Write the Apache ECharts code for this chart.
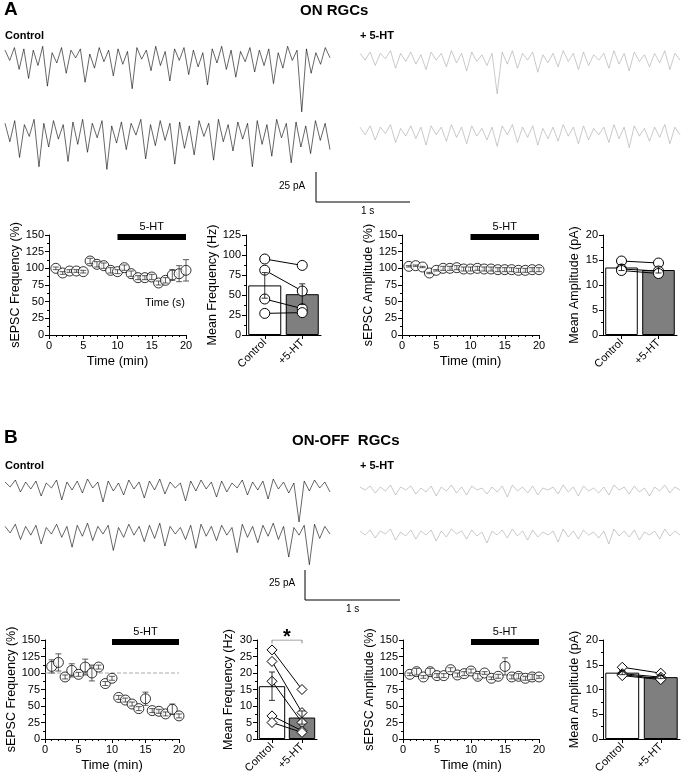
<!DOCTYPE html>
<html style="height:100%">
<head>
<meta charset="utf-8">
<script src="https://cdn.jsdelivr.net/npm/echarts@6/dist/echarts.min.js"></script>
</head>
<body style="height:100%;margin:0;background:#fff">
<div id="container" style="width:685px;height:784px"></div>
<script>
// traces (pA, baseline 0)
var trA1 = [0,-8,2,-15,1,-22,0,-12,3,-28,-2,-10,2,-18,0,-6,1,-25,-3,-14,2,-9,0,-20,1,-11,-1,-30,2,-7,0,-16,3,-12,-1,-24,1,-8,2,-19,0,-13,-2,-27,1,-10,3,-15,0,-21,-1,-9,2,-17,0,-12,1,-26,-2,-14,3,-8,0,-48,1,-18,-2,-11,2,-6];
var trA2 = [0,-14,2,-26,-1,-10,3,-33,0,-18,2,-12,-1,-29,1,-16,3,-22,0,-11,2,-35,-2,-15,1,-20,0,-9,3,-27,-1,-17,2,-13,0,-31,1,-19,-2,-24,2,-10,0,-28,3,-14,-1,-21,1,-12,0,-33,2,-16,-1,-25,3,-11,0,-30,1,-18,-2,-23,2,-13,0,-20];
var trA3 = [0,-5,1,-9,0,-4,2,-11,0,-6,1,-8,-1,-12,1,-5,0,-10,2,-7,0,-13,1,-6,-1,-9,0,-30,1,-8,2,-11,0,-5,1,-14,-1,-7,0,-10,2,-6,0,-12,1,-9,-1,-5,0,-11,2,-8,0,-13,1,-6,-1,-10,0,-7,2,-12,0,-5];
var trA4 = [0,-6,1,-10,0,-5,2,-12,-1,-7,1,-9,0,-14,1,-6,0,-11,2,-8,0,-13,1,-7,-1,-10,0,-15,1,-6,2,-12,0,-8,1,-14,-1,-9,0,-11,2,-7,0,-13,1,-10,-1,-6,0,-12,2,-9,0,-16,1,-7,-1,-11,0,-8,2,-13,0,-6];
var trB1 = [0,-5,2,-10,0,-7,1,-14,-1,-6,2,-18,0,-8,1,-11,3,-6,0,-20,1,-9,-1,-13,2,-7,0,-16,1,-8,3,-12,0,-6,-1,-19,1,-9,2,-7,0,-15,1,-10,-1,-6,2,-13,0,-8,1,-17,3,-7,0,-11,-1,-40,1,-9,2,-6,0,-10];
var trB2 = [0,-6,2,-12,0,-8,1,-16,-1,-7,2,-10,0,-19,1,-9,3,-13,0,-7,1,-22,-1,-10,2,-8,0,-14,1,-11,3,-18,0,-7,-1,-12,1,-20,2,-9,0,-13,1,-8,-1,-24,2,-10,0,-15,1,-9,3,-12,0,-28,-1,-8,1,-35,2,-11,0,-7];
var trB3 = [0,-3,1,-6,0,-4,2,-8,0,-3,1,-7,-1,-5,1,-9,0,-4,2,-6,0,-8,1,-3,-1,-7,0,-5,1,-10,2,-4,0,-6,1,-8,-1,-3,0,-7,2,-5,0,-9,1,-4,-1,-6,0,-8,2,-3,0,-7,1,-5,-1,-9,0,-4,2,-6,0,-3];
var trB4 = [0,-4,1,-7,0,-3,2,-9,-1,-5,1,-8,0,-4,1,-10,0,-6,2,-3,0,-8,1,-5,-1,-12,0,-4,1,-7,2,-5,0,-9,1,-6,-1,-4,0,-11,2,-6,0,-8,1,-4,-1,-7,0,-13,2,-5,0,-6,1,-9,-1,-4,0,-8,2,-5,0,-4];

// time courses (min, % of control)
var minutes = [1,2,3,4,5,6,7,8,9,10,11,12,13,14,15,16,17,18,19,20];
var freqA = [100,93,96,96,95,111,106,104,97,95,101,92,86,86,87,78,82,90,92,97];
var freqAErr = [2,2,2,2,2,4,4,4,4,3,4,4,3,3,4,3,4,8,12,16];
var ampA = [103,104,102,93,97,100,100,101,99,99,100,99,99,98,98,98,97,97,98,98];
var ampAErr = [1,1,1,1,1,3,3,3,3,3,3,3,3,3,3,3,3,3,3,3];
var freqB = [110,116,94,104,98,109,100,109,84,92,63,59,53,46,61,43,42,38,45,35];
var freqBErr = [10,13,3,10,3,12,12,3,3,3,3,3,3,3,10,3,3,3,8,3];
var ampB = [98,102,94,102,96,96,105,97,99,103,95,100,92,95,110,94,95,92,94,94];
var ampBErr = [2,5,2,5,3,3,3,3,3,3,4,2,2,3,13,3,4,3,4,2];

// group means and paired cells
var groups = ['Control', '+5-HT'];
var freqBarA = [62, 51], freqBarAErr = [16, 13];
var freqPairsA = [[95, 87], [81, 55], [45, 33], [27, 28]];
var ampBarA = [13.5, 13.0], ampBarAErr = [0.6, 0.6];
var ampPairsA = [[14.8, 14.4], [13.2, 12.8], [12.9, 12.3]];
var freqBarB = [16, 6.5], freqBarBErr = [4.3, 2];
var freqPairsB = [[27, 15], [23.5, 8], [17.5, 5], [7, 2.5], [5, 2]];
var ampBarB = [13.4, 12.5], ampBarBErr = [0.4, 0.3];
var ampPairsB = [[14.5, 13.3], [13.2, 12.5], [13, 12.2], [12.8, 12]];

var myChart = echarts.init(document.getElementById('container'), null, {renderer: 'canvas'});
var FONT = 'Liberation Sans';
var grid = [], xAxis = [], yAxis = [], series = [];

function addTrace(arr, left, top, w, h, min, color) {
  var i = grid.length;
  grid.push({left: left, top: top, width: w, height: h});
  xAxis.push({gridIndex: i, type: 'category', show: false, boundaryGap: false,
    data: arr.map(function (v, k) { return k; })});
  yAxis.push({gridIndex: i, type: 'value', show: false, min: min, max: 4});
  series.push({type: 'line', xAxisIndex: i, yAxisIndex: i, data: arr, showSymbol: false,
    lineStyle: {color: color, width: 0.6}, silent: true});
}

function errSeries(i, data, color) {
  return {type: 'custom', xAxisIndex: i, yAxisIndex: i, z: 5, data: data, silent: true,
    renderItem: function (params, api) {
      var lo = api.coord([api.value(0), api.value(1)]);
      var hi = api.coord([api.value(0), api.value(2)]);
      return {type: 'group', children: [
        {type: 'line', shape: {x1: lo[0], y1: lo[1], x2: hi[0], y2: hi[1]}, style: {stroke: color || '#000', lineWidth: 0.8}},
        {type: 'line', shape: {x1: hi[0] - 3, y1: hi[1], x2: hi[0] + 3, y2: hi[1]}, style: {stroke: color || '#000', lineWidth: 0.8}},
        {type: 'line', shape: {x1: lo[0] - 3, y1: lo[1], x2: lo[0] + 3, y2: lo[1]}, style: {stroke: color || '#000', lineWidth: 0.8}}
      ]};
    }};
}

function yBase(i, min, max, interval, name, gap) {
  return {gridIndex: i, type: 'value', min: min, max: max, interval: interval,
    name: name, nameLocation: 'middle', nameGap: gap, nameTextStyle: {fontFamily: FONT, fontSize: 12.5, color: '#000'},
    axisLine: {show: true, lineStyle: {color: '#000'}}, axisTick: {show: true, length: 4, lineStyle: {color: '#000'}},
    minorTick: {show: true, splitNumber: 2, length: 2, lineStyle: {color: '#000'}},
    splitLine: {show: false}, axisLabel: {fontFamily: FONT, fontSize: 11, color: '#000', margin: 5}};
}

function addTime(vals, errs, left, top, w, h, name, dashed) {
  var i = grid.length;
  grid.push({left: left, top: top, width: w, height: h});
  xAxis.push({gridIndex: i, type: 'value', min: 0, max: 20, interval: 5,
    name: 'Time (min)', nameLocation: 'middle', nameGap: 20, nameTextStyle: {fontFamily: FONT, fontSize: 13, color: '#000'},
    axisLine: {lineStyle: {color: '#000'}}, axisTick: {show: true, length: 4, lineStyle: {color: '#000'}},
    minorTick: {show: true, splitNumber: 5, length: 2, lineStyle: {color: '#000'}},
    splitLine: {show: false}, axisLabel: {fontFamily: FONT, fontSize: 11, color: '#000', margin: 5}});
  yAxis.push(yBase(i, 0, 150, 25, name, 27));
  series.push({type: 'scatter', xAxisIndex: i, yAxisIndex: i, symbol: 'circle', symbolSize: 10, z: 3,
    data: minutes.map(function (m, k) { return [m, vals[k]]; }),
    itemStyle: {color: '#fff', borderColor: '#000', borderWidth: 1},
    markLine: {silent: true, symbol: 'none', lineStyle: {color: '#000', width: 6, type: 'solid'},
      label: {show: true, position: 'insideMiddleTop', formatter: '5-HT', color: '#000', fontFamily: FONT, fontSize: 11, distance: 4},
      data: [[{coord: [10, 148]}, {coord: [20, 148]}]]}});
  series.push(errSeries(i, minutes.map(function (m, k) { return [m, vals[k] - errs[k], vals[k] + errs[k]]; }), '#333'));
  if (dashed) {
    series.push({type: 'line', xAxisIndex: i, yAxisIndex: i, z: 1, showSymbol: false, silent: true,
      data: [[0, 100], [20, 100]], lineStyle: {color: '#aaa', type: 'dashed', width: 1}});
  }
}

function addBar(means, errs, pairs, left, top, w, h, max, interval, name, gap, symbol) {
  var i = grid.length;
  grid.push({left: left, top: top, width: w, height: h});
  xAxis.push({gridIndex: i, type: 'category', data: groups,
    axisLine: {lineStyle: {color: '#000'}}, axisTick: {show: true, alignWithLabel: true, length: 4, lineStyle: {color: '#000'}},
    axisLabel: {rotate: 45, fontFamily: FONT, fontSize: 11, color: '#000', margin: 6}});
  yAxis.push(yBase(i, 0, max, interval, name, gap));
  series.push({type: 'bar', xAxisIndex: i, yAxisIndex: i, barWidth: '88%', silent: true,
    data: means.map(function (v, k) {
      return {value: v, itemStyle: {color: k ? '#7f7f7f' : '#fff', borderColor: '#000', borderWidth: 1}};
    })});
  series.push(errSeries(i, means.map(function (v, k) { return [k, v - errs[k], v + errs[k]]; })));
  pairs.forEach(function (p) {
    series.push({type: 'line', xAxisIndex: i, yAxisIndex: i, z: 4, data: p, symbol: symbol, symbolSize: 10, silent: true,
      lineStyle: {color: '#000', width: 1}, itemStyle: {color: '#fff', borderColor: '#000', borderWidth: 1}});
  });
  return i;
}

// panel A
addTrace(trA1, 5, 45, 325, 72, -52, '#000');
addTrace(trA2, 5, 118, 325, 58, -40, '#000');
addTrace(trA3, 360, 48, 320, 66, -45, '#a6a6a6');
addTrace(trA4, 360, 122, 320, 50, -35, '#a6a6a6');
addTime(freqA, freqAErr, 49, 235, 137, 100, 'sEPSC Frequency (%)', false);
addBar(freqBarA, freqBarAErr, freqPairsA, 246, 235, 75, 100, 125, 25, 'Mean Frequency (Hz)', 27, 'circle');
addTime(ampA, ampAErr, 402, 235, 137, 100, 'sEPSC Amplitude (%)', false);
addBar(ampBarA, ampBarAErr, ampPairsA, 603, 235, 74, 100, 20, 5, 'Mean Amplitude (pA)', 22, 'circle');

// panel B
addTrace(trB1, 5, 478, 325, 46, -42, '#000');
addTrace(trB2, 5, 522, 325, 46, -38, '#000');
addTrace(trB3, 360, 483, 320, 34, -30, '#a6a6a6');
addTrace(trB4, 360, 527, 320, 34, -30, '#a6a6a6');
addTime(freqB, freqBErr, 45, 640, 134, 99, 'sEPSC Frequency (%)', true);
var gB = addBar(freqBarB, freqBarBErr, freqPairsB, 257, 640, 60, 99, 30, 5, 'Mean Frequency (Hz)', 22, 'diamond');
series.push({type: 'line', xAxisIndex: gB, yAxisIndex: gB, showSymbol: false, silent: true,
  data: [['Control', 29], ['Control', 30], ['+5-HT', 30], ['+5-HT', 29]], lineStyle: {color: '#888', width: 1}});
addTime(ampB, ampBErr, 403, 640, 136, 99, 'sEPSC Amplitude (%)', false);
addBar(ampBarB, ampBarBErr, ampPairsB, 603, 640, 77, 99, 20, 5, 'Mean Amplitude (pA)', 22, 'diamond');

function txt(x, y, s, size, bold, align) {
  return {type: 'text', left: x, top: y, style: {text: s, fontFamily: FONT, fontSize: size,
    fontWeight: bold ? 'bold' : 'normal', fill: '#000', textAlign: align || 'left'}};
}
function seg(x1, y1, x2, y2) {
  return {type: 'line', shape: {x1: x1, y1: y1, x2: x2, y2: y2}, style: {stroke: '#000', lineWidth: 1}};
}

var option = {
  animation: false,
  grid: grid, xAxis: xAxis, yAxis: yAxis, series: series,
  graphic: [
    txt(4, 0, 'A', 19, true), txt(300, 3, 'ON RGCs', 15, true),
    txt(5, 30, 'Control', 11, true), txt(360, 30, '+ 5-HT', 11, true),
    seg(316, 172, 316, 202), seg(316, 202, 410, 202),
    txt(279, 181, '25 pA', 10), txt(361, 206, '1 s', 10),
    txt(145, 297, 'Time (s)', 11),
    txt(4, 428, 'B', 19, true), txt(292, 433, 'ON-OFF  RGCs', 15, true),
    txt(5, 460, 'Control', 11, true), txt(360, 460, '+ 5-HT', 11, true),
    seg(305, 570, 305, 600), seg(305, 600, 400, 600),
    txt(269, 578, '25 pA', 10), txt(346, 604, '1 s', 10),
    txt(283, 627, '*', 20, true)
  ]
};
myChart.setOption(option);
</script>
</body>
</html>
